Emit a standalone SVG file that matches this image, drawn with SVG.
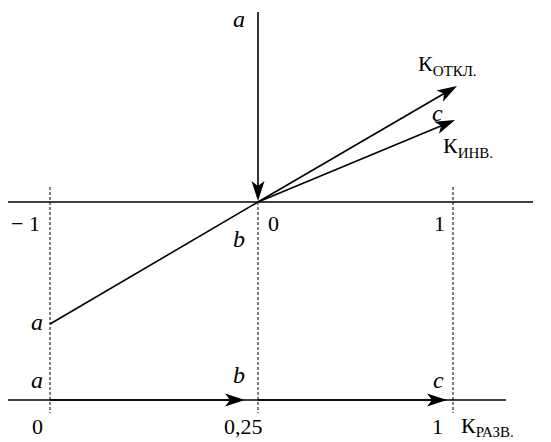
<svg xmlns="http://www.w3.org/2000/svg" width="551" height="442" viewBox="0 0 551 442">
<style>
.ax{stroke:#000;stroke-width:1.3;fill:none}
.vec{stroke:#000;stroke-width:1.6;fill:none}
.dash{stroke:#000;stroke-width:1;stroke-dasharray:3,2;fill:none}
text{font-family:"Liberation Serif","DejaVu Serif",serif;font-size:22px;fill:#000}
.it{font-style:italic;font-size:24px}
.sub{font-size:15px}
</style>
<defs>
<marker id="ah" viewBox="-21 -7 22 14" refX="-3" refY="0" markerWidth="22" markerHeight="14" markerUnits="userSpaceOnUse" orient="auto">
<path d="M0,0 L-20,-6.5 L-15,0 L-20,6.5 Z" fill="#000"/>
</marker>
</defs>
<g id="axes">
<line class="ax" x1="8" y1="202" x2="533" y2="202"/>
<line class="ax" x1="8" y1="400" x2="506" y2="400"/>
<line class="dash" x1="50" y1="187" x2="50" y2="413"/>
<line class="dash" x1="258" y1="202" x2="258" y2="413"/>
<line class="dash" x1="453" y1="187" x2="453" y2="413"/>
</g>
<g id="connectors">
<line class="vec" x1="258" y1="12" x2="258" y2="198" marker-end="url(#ah)"/>
<line class="vec" x1="50" y1="324" x2="258" y2="202"/>
<line class="vec" x1="258" y1="202" x2="454.4" y2="87.5" marker-end="url(#ah)"/>
<line class="vec" x1="258" y1="202" x2="452.2" y2="121.2" marker-end="url(#ah)"/>
<line class="vec" x1="50" y1="400" x2="242" y2="400" marker-end="url(#ah)"/>
<line class="vec" x1="258" y1="400" x2="444" y2="400" marker-end="url(#ah)"/>
</g>
<g id="labels">
<text class="it" x="233" y="27">a</text>
<text x="418" y="71">К<tspan class="sub" dy="5">ОТКЛ.</tspan></text>
<text class="it" x="432" y="121">c</text>
<text x="443" y="153">К<tspan class="sub" dy="5">ИНВ.</tspan></text>
<text x="11" y="231">− 1</text>
<text x="268" y="231">0</text>
<text x="434" y="231">1</text>
<text class="it" x="233" y="247">b</text>
<text class="it" x="31" y="330">a</text>
<text class="it" x="31" y="388">a</text>
<text class="it" x="233" y="383">b</text>
<text class="it" x="433" y="388">c</text>
<text x="32" y="434">0</text>
<text x="224" y="434">0,25</text>
<text x="432" y="434">1</text>
<text x="461" y="433">К<tspan class="sub" dy="4">РАЗВ.</tspan></text>
</g>
</svg>
